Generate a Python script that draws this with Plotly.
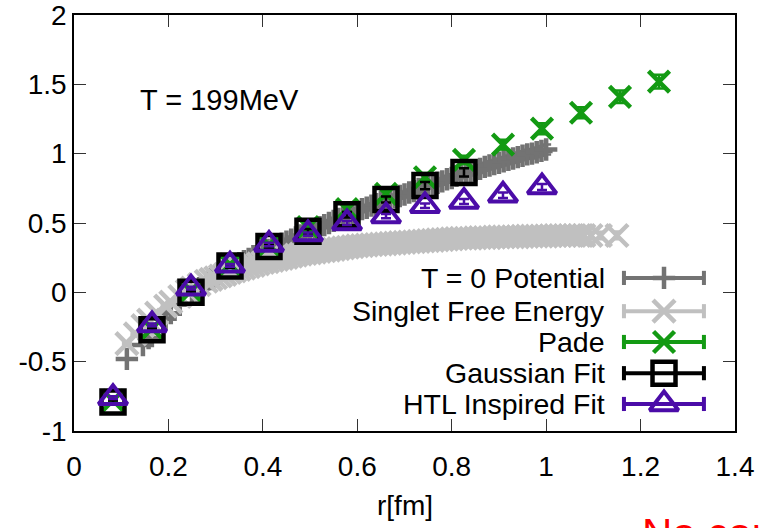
import plotly.graph_objects as go

# ---------------- data ----------------
T0_r = [0.112, 0.146, 0.158, 0.194, 0.205, 0.224, 0.250, 0.265, 0.280, 0.290,
        0.30, 0.31, 0.32, 0.33, 0.34, 0.35, 0.36, 0.37, 0.38, 0.39,
        0.40, 0.41, 0.42, 0.43, 0.44, 0.45, 0.46, 0.47, 0.48, 0.49,
        0.50, 0.51, 0.52, 0.53, 0.54, 0.55, 0.56, 0.57, 0.58, 0.59,
        0.60, 0.61, 0.62, 0.63, 0.64, 0.65, 0.66, 0.67, 0.68, 0.69,
        0.70, 0.71, 0.72, 0.73, 0.74, 0.75, 0.76, 0.77, 0.78, 0.79,
        0.80, 0.81, 0.82, 0.83, 0.84, 0.85, 0.86, 0.87, 0.88, 0.89,
        0.90, 0.91, 0.92, 0.93, 0.94, 0.95, 0.96, 0.97, 0.98, 0.99, 1.00]
T0_V = [-0.48, -0.38, -0.33, -0.19, -0.15, -0.09, -0.01, 0.03, 0.07, 0.095,
        0.115, 0.135, 0.155, 0.17, 0.19, 0.21, 0.225, 0.24, 0.26, 0.275,
        0.29, 0.305, 0.32, 0.335, 0.35, 0.365, 0.38, 0.395, 0.41, 0.425,
        0.44, 0.455, 0.47, 0.485, 0.50, 0.515, 0.53, 0.545, 0.56, 0.57,
        0.585, 0.60, 0.61, 0.625, 0.635, 0.65, 0.66, 0.675, 0.685, 0.695,
        0.705, 0.72, 0.73, 0.745, 0.755, 0.77, 0.78, 0.79, 0.80, 0.815,
        0.825, 0.84, 0.85, 0.86, 0.87, 0.88, 0.89, 0.905, 0.915, 0.925,
        0.935, 0.945, 0.955, 0.965, 0.975, 0.985, 0.995, 1.00, 1.01, 1.02, 1.03]
T0_err = [0.005, 0.005, 0.005, 0.006, 0.006, 0.006, 0.007, 0.007, 0.008, 0.008,
          0.008, 0.008, 0.009, 0.009, 0.009, 0.010, 0.010, 0.010, 0.010, 0.011,
          0.011, 0.011, 0.011, 0.012, 0.012, 0.012, 0.012, 0.013, 0.013, 0.013,
          0.013, 0.014, 0.014, 0.015, 0.015, 0.015, 0.015, 0.016, 0.016, 0.017,
          0.017, 0.017, 0.018, 0.018, 0.018, 0.019, 0.019, 0.020, 0.020, 0.020,
          0.021, 0.021, 0.022, 0.022, 0.023, 0.023, 0.024, 0.024, 0.025, 0.025,
          0.026, 0.026, 0.027, 0.027, 0.028, 0.028, 0.029, 0.029, 0.030, 0.030,
          0.031, 0.031, 0.032, 0.032, 0.033, 0.033, 0.034, 0.034, 0.035, 0.035, 0.036]

S_r = [0.112, 0.130, 0.146, 0.158, 0.175, 0.194, 0.205, 0.224, 0.240, 0.250,
       0.265, 0.280, 0.290,
       0.30, 0.31, 0.32, 0.33, 0.34, 0.35, 0.36, 0.37, 0.38, 0.39,
       0.40, 0.41, 0.42, 0.43, 0.44, 0.45, 0.46, 0.47, 0.48, 0.49,
       0.50, 0.51, 0.52, 0.53, 0.54, 0.55, 0.56, 0.57, 0.58, 0.59,
       0.60, 0.61, 0.62, 0.63, 0.64, 0.65, 0.66, 0.67, 0.68, 0.69,
       0.70, 0.71, 0.72, 0.73, 0.74, 0.75, 0.76, 0.77, 0.78, 0.79,
       0.80, 0.81, 0.82, 0.83, 0.84, 0.85, 0.86, 0.87, 0.88, 0.89,
       0.90, 0.91, 0.92, 0.93, 0.94, 0.95, 0.96, 0.97, 0.98, 0.99,
       1.00, 1.01, 1.02, 1.03, 1.04, 1.05, 1.06, 1.07, 1.08,
       1.095, 1.115, 1.150]
S_F = [-0.37, -0.30, -0.24, -0.20, -0.15, -0.10, -0.07, -0.03, 0.01, 0.03,
       0.055, 0.08, 0.093,
       0.105, 0.118, 0.13, 0.143, 0.155, 0.165, 0.175, 0.185, 0.195, 0.205,
       0.215, 0.222, 0.23, 0.238, 0.245, 0.252, 0.26, 0.268, 0.275, 0.28,
       0.285, 0.29, 0.295, 0.30, 0.305, 0.31, 0.315, 0.32, 0.325, 0.33,
       0.335, 0.337, 0.34, 0.343, 0.345, 0.348, 0.35, 0.353, 0.355, 0.358,
       0.36, 0.363, 0.365, 0.368, 0.37, 0.373, 0.375, 0.378, 0.38, 0.383,
       0.385, 0.388, 0.39, 0.39, 0.39, 0.393, 0.395, 0.395, 0.395, 0.398,
       0.40, 0.40, 0.40, 0.40, 0.40, 0.403, 0.405, 0.405, 0.405, 0.405,
       0.405, 0.408, 0.41, 0.41, 0.41, 0.41, 0.41, 0.41, 0.41,
       0.41, 0.41, 0.41]
S_err = [0.004, 0.004, 0.005, 0.005, 0.005, 0.006, 0.006, 0.006, 0.007, 0.007,
         0.007, 0.008, 0.008,
         0.008, 0.008, 0.008, 0.009, 0.009, 0.009, 0.009, 0.010, 0.010, 0.010,
         0.010, 0.010, 0.011, 0.011, 0.011, 0.011, 0.011, 0.012, 0.012, 0.012,
         0.012, 0.012, 0.013, 0.013, 0.013, 0.013, 0.013, 0.014, 0.014, 0.014,
         0.014, 0.015, 0.015, 0.015, 0.015, 0.016, 0.016, 0.016, 0.016, 0.017,
         0.017, 0.017, 0.017, 0.018, 0.018, 0.018, 0.018, 0.019, 0.019, 0.019,
         0.019, 0.020, 0.020, 0.020, 0.020, 0.021, 0.021, 0.021, 0.021, 0.022,
         0.022, 0.022, 0.022, 0.023, 0.023, 0.023, 0.023, 0.024, 0.024, 0.024,
         0.024, 0.025, 0.025, 0.025, 0.025, 0.026, 0.026, 0.026, 0.026,
         0.027, 0.027, 0.028]

fit_r = [0.0826, 0.1652, 0.2478, 0.3304, 0.4130, 0.4956, 0.5782, 0.6608,
         0.7434, 0.8260, 0.9086, 0.9912, 1.0738, 1.1564, 1.2390]
pade_V = [-0.78, -0.26, 0.01, 0.20, 0.34, 0.47, 0.60, 0.71,
          0.83, 0.955, 1.065, 1.18, 1.295, 1.41, 1.52]
pade_err = [0.01, 0.01, 0.01, 0.015, 0.015, 0.02, 0.02, 0.025,
            0.03, 0.03, 0.035, 0.04, 0.04, 0.045, 0.05]
gauss_V = [-0.79, -0.27, 0.0, 0.19, 0.33, 0.44, 0.56, 0.67, 0.77, 0.865]
gauss_err = [0.01, 0.01, 0.01, 0.012, 0.014, 0.016, 0.02, 0.022, 0.026, 0.03]
htl_V = [-0.76, -0.235, 0.03, 0.195, 0.345, 0.42, 0.50, 0.55,
         0.625, 0.655, 0.70, 0.76]
htl_err = [0.01, 0.01, 0.01, 0.01, 0.012, 0.012, 0.014, 0.015,
           0.016, 0.018, 0.02, 0.022]

series_names = ["T = 0 Potential", "Singlet Free Energy", "Pade",
                "Gaussian Fit", "HTL Inspired Fit"]
x_ticks = [0, 0.2, 0.4, 0.6, 0.8, 1.0, 1.2, 1.4]
x_ticktext = ["0", "0.2", "0.4", "0.6", "0.8", "1", "1.2", "1.4"]
y_ticks = [-1, -0.5, 0, 0.5, 1, 1.5, 2]
y_ticktext = ["-1", "-0.5", "0", "0.5", "1", "1.5", "2"]

# ---------------- style ----------------
FONT = "Liberation Sans, Arial, sans-serif"
FS = 28
FS_TXT = 28.5
C_T0 = "#737373"
C_S = "#c0c0c0"
C_P = "#139a13"
C_G = "#000000"
C_H = "#4b0ca8"

styles = [
    dict(symbol="cross-thin", size=16, color=C_T0, lw=4.5),
    dict(symbol="x-thin", size=22, color=C_S, lw=4.5),
    dict(symbol="x-thin", size=21, color=C_P, lw=4.5),
    dict(symbol="square-open", size=23, color=C_G, lw=4.5),
    dict(symbol="triangle-up-open", size=25, color=C_H, lw=4),
]

fig = go.Figure()
data_sets = [(T0_r, T0_V, T0_err), (S_r, S_F, S_err),
             (fit_r, pade_V, pade_err), (fit_r[:len(gauss_V)], gauss_V, gauss_err),
             (fit_r[:len(htl_V)], htl_V, htl_err)]
for (xs, ys, es), st, nm in zip(data_sets, styles, series_names):
    fig.add_trace(go.Scatter(
        x=xs, y=ys, mode="markers", name=nm, showlegend=False,
        marker=dict(symbol=st["symbol"], size=st["size"], color=st["color"],
                    line=dict(width=st["lw"], color=st["color"])),
        error_y=dict(type="data", array=es, color=st["color"], thickness=2.5, width=5),
    ))

# ---------------- custom gnuplot-style key ----------------
key_rows = [0.368, 0.288, 0.214, 0.139, 0.065]
kx0, kx1, kxm, ktext = 0.832, 0.953, 0.8926, 0.806
cap = 0.017
for yk, st, nm in zip(key_rows, styles, series_names):
    fig.add_shape(type="line", xref="paper", yref="paper", x0=kx0, x1=kx1, y0=yk, y1=yk,
                  line=dict(color=st["color"], width=4))
    for xc in (kx0, kx1):
        fig.add_shape(type="line", xref="paper", yref="paper", x0=xc, x1=xc,
                      y0=yk - cap, y1=yk + cap, line=dict(color=st["color"], width=4))
    fig.add_annotation(x=ktext, y=yk, xref="paper", yref="paper", text=nm,
                       showarrow=False, xanchor="right", yanchor="middle",
                       font=dict(family=FONT, size=FS_TXT, color="black"))
    fig.add_trace(go.Scatter(
        x=[kxm], y=[yk], xaxis="x2", yaxis="y2", mode="markers", showlegend=False,
        hoverinfo="skip",
        marker=dict(symbol=st["symbol"], size=st["size"], color=st["color"],
                    line=dict(width=st["lw"], color=st["color"])),
    ))

fig.add_annotation(x=0.136, y=1.39, xref="x", yref="y", text="T = 199MeV",
                   showarrow=False, xanchor="left", yanchor="middle",
                   font=dict(family=FONT, size=FS_TXT + 0.5, color="black"))
fig.add_annotation(x=0.5, y=-0.178, xref="paper", yref="paper", text="r[fm]",
                   showarrow=False, xanchor="center", yanchor="middle",
                   font=dict(family=FONT, size=FS, color="black"))
fig.add_annotation(x=0.856, y=-0.246, xref="paper", yref="paper", text="No continuum",
                   showarrow=False, xanchor="left", yanchor="middle",
                   font=dict(family=FONT, size=42, color="#ff0000"))

axis_common = dict(showline=True, linecolor="black", linewidth=1.5, mirror="ticks",
                   ticks="inside", ticklen=12, tickwidth=1.2, tickcolor="#333333",
                   showgrid=False, zeroline=False, automargin=False,
                   ticklabeloverflow="allow",
                   tickfont=dict(family=FONT, size=FS, color="black"))
fig.update_layout(
    width=759, height=528,
    margin=dict(l=74, r=24, t=15, b=97),
    paper_bgcolor="white", plot_bgcolor="white",
    showlegend=False,
    xaxis=dict(range=[0, 1.4], tickvals=x_ticks, ticktext=x_ticktext,
               ticklabelstandoff=10, **axis_common),
    yaxis=dict(range=[-1, 2], tickvals=y_ticks, ticktext=y_ticktext,
               ticklabelstandoff=0, **axis_common),
    xaxis2=dict(overlaying="x", anchor="y2", range=[0, 1], visible=False),
    yaxis2=dict(overlaying="y", anchor="x2", range=[0, 1], visible=False),
)

fig.write_html("out.html", config={"displayModeBar": False},
               post_script="document.body.style.margin='0';document.body.style.overflow='hidden';")
